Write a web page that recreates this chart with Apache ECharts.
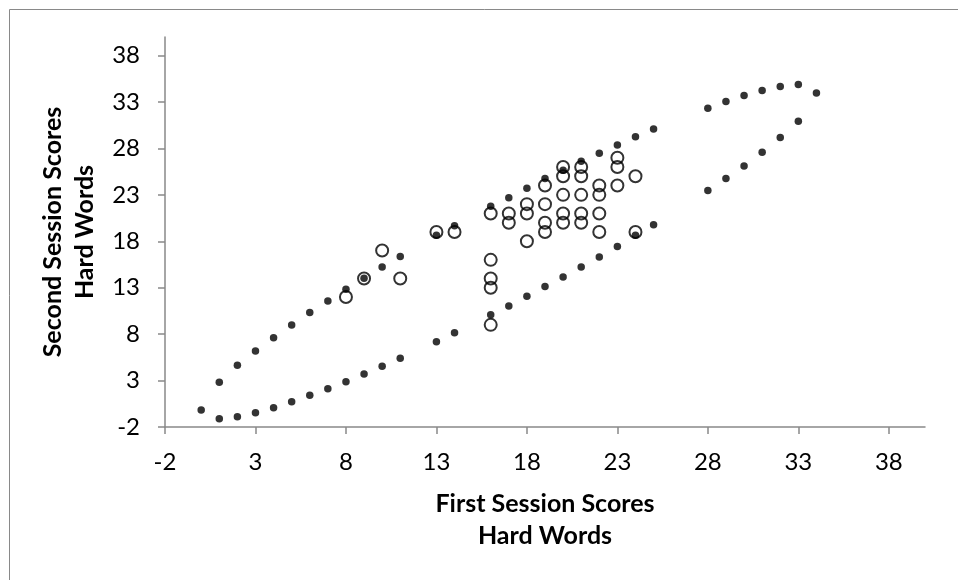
<!DOCTYPE html>
<html>
<head>
<meta charset="utf-8">
<script src="https://cdn.jsdelivr.net/npm/echarts@6/dist/echarts.min.js"></script>
<style>
html,body{margin:0;padding:0;background:#fff;}
#chart{width:958px;height:580px;}
</style>
</head>
<body>
<div id="chart"></div>
<script>
// Tick labels
var xTicks = [-2, 3, 8, 13, 18, 23, 28, 33, 38];
var yTicks = [-2, 3, 8, 13, 18, 23, 28, 33, 38];

// Observed scores (open circles)
var obsFirst  = [8, 9, 10, 11, 13, 14, 16, 16, 16, 16, 16, 17, 17, 18, 18, 18, 19, 19, 19, 19, 20, 20, 20, 20, 20, 21, 21, 21, 21, 21, 22, 22, 22, 22, 23, 23, 23, 24, 24];
var obsSecond = [12, 14, 17, 14, 19, 19, 21, 16, 14, 13, 9, 21, 20, 22, 21, 18, 24, 22, 20, 19, 26, 25, 23, 21, 20, 26, 25, 23, 21, 20, 24, 23, 21, 19, 27, 26, 24, 25, 19];

// Upper band (filled dots)
var upperX = [1, 2, 3, 4, 5, 6, 7, 8, 9, 10, 11, 13, 14, 16, 17, 18, 19, 20, 21, 22, 23, 24, 25, 28, 29, 30, 31, 32, 33, 34];
var upperY = [2.82, 4.65, 6.19, 7.62, 8.99, 10.32, 11.58, 12.84, 14.02, 15.24, 16.35, 18.66, 19.66, 21.78, 22.7, 23.72, 24.76, 25.66, 26.63, 27.49, 28.36, 29.25, 30.08, 32.34, 33.05, 33.7, 34.24, 34.67, 34.89, 33.96];

// Lower band (filled dots)
var lowerX = [0, 1, 2, 3, 4, 5, 6, 7, 8, 9, 10, 11, 13, 14, 16, 17, 18, 19, 20, 21, 22, 23, 24, 25, 28, 29, 30, 31, 32, 33];
var lowerY = [-0.17, -1.1, -0.89, -0.46, 0.08, 0.73, 1.41, 2.13, 2.88, 3.71, 4.54, 5.4, 7.19, 8.16, 10.1, 11.04, 12.08, 13.12, 14.16, 15.24, 16.32, 17.43, 18.66, 19.77, 23.46, 24.76, 26.12, 27.6, 29.18, 30.94];

function pairs(xs, ys) { return xs.map(function (x, i) { return [x, ys[i]]; }); }

var FONT = 'Lato';
var axisColor = '#898989';

var chart = echarts.init(document.getElementById('chart'), null, { renderer: 'canvas' });
chart.setOption({
  animation: false,
  backgroundColor: '#ffffff',
  graphic: [{
    type: 'rect', left: 7, top: 7, silent: true,
    shape: { x: 0, y: 0, width: 1000, height: 1000 },
    style: { fill: 'none', stroke: axisColor, lineWidth: 1 }
  }],
  grid: { left: 165, right: 33, top: 37, bottom: 153, containLabel: false },
  xAxis: {
    type: 'value', min: -2, max: 40, interval: 5,
    name: 'First Session Scores\nHard Words',
    nameLocation: 'middle', nameGap: 61,
    nameTextStyle: { fontFamily: FONT, fontWeight: 'bold', fontSize: 25, color: '#000', lineHeight: 32 },
    axisLine: { show: true, onZero: false, lineStyle: { color: axisColor, width: 1.5 } },
    axisTick: { show: true, length: 7, customValues: xTicks, lineStyle: { color: axisColor, width: 1.5 } },
    axisLabel: { customValues: xTicks, margin: 23, fontFamily: FONT, fontSize: 24, color: '#000' },
    splitLine: { show: false }
  },
  yAxis: {
    type: 'value', min: -2, max: 40, interval: 5,
    name: 'Second Session Scores\nHard Words',
    nameLocation: 'middle', nameGap: 51, nameRotate: 90,
    nameTextStyle: { fontFamily: FONT, fontWeight: 'bold', fontSize: 25, color: '#000', lineHeight: 32 },
    axisLine: { show: true, onZero: false, lineStyle: { color: axisColor, width: 1.5 } },
    axisTick: { show: true, length: 7, customValues: yTicks, lineStyle: { color: axisColor, width: 1.5 } },
    axisLabel: { customValues: yTicks, margin: 25, fontFamily: FONT, fontSize: 24, color: '#000' },
    splitLine: { show: false }
  },
  series: [
    {
      name: 'Observed', type: 'scatter', symbol: 'circle', symbolSize: 12,
      data: pairs(obsFirst, obsSecond),
      itemStyle: { color: 'rgba(0,0,0,0)', borderColor: '#000', borderWidth: 2 },
      z: 2
    },
    {
      name: 'Upper', type: 'scatter', symbol: 'circle', symbolSize: 7.5,
      data: pairs(upperX, upperY),
      itemStyle: { color: '#000' }, z: 3
    },
    {
      name: 'Lower', type: 'scatter', symbol: 'circle', symbolSize: 7.5,
      data: pairs(lowerX, lowerY),
      itemStyle: { color: '#000' }, z: 3
    }
  ]
});
</script>
</body>
</html>
